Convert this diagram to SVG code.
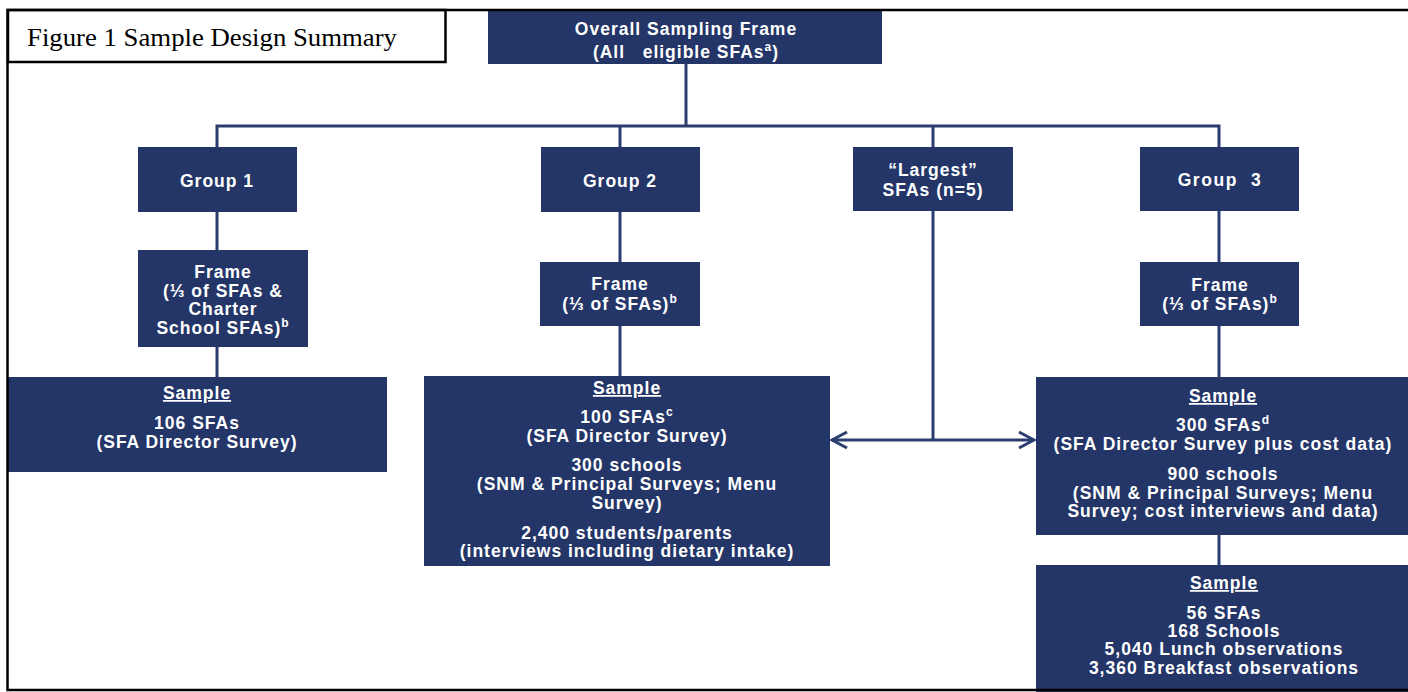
<svg xmlns="http://www.w3.org/2000/svg" width="1408" height="692" viewBox="0 0 1408 692">
<style>
.box{fill:#243668;}
.t{font-family:"Liberation Sans",Arial,sans-serif;font-weight:bold;font-size:17.5px;letter-spacing:1px;fill:#ffffff;text-anchor:middle;}
.u{text-decoration:underline;}
.sup{font-size:12px;}
.con{fill:none;stroke:#2b3d6e;stroke-width:3;}
.frame{fill:none;stroke:#000000;stroke-width:2.5;}
</style>
<defs>
<marker id="chev" markerUnits="userSpaceOnUse" markerWidth="20" markerHeight="20" viewBox="0 0 20 20" refX="17" refY="10" orient="auto-start-reverse">
<path d="M2,2 L17,10 L2,18" fill="none" stroke="#2b3d6e" stroke-width="3"/>
</marker>
</defs>
<rect x="0" y="0" width="1408" height="692" fill="#ffffff"/>

<g id="connectors">
<path class="con" d="M686 64 V126"/>
<path class="con" d="M217 147 V126 H1219 V147"/>
<path class="con" d="M620 126 V147"/>
<path class="con" d="M933 126 V147"/>
<path class="con" d="M217 212 V250"/>
<path class="con" d="M217 347 V377"/>
<path class="con" d="M620 212 V262"/>
<path class="con" d="M620 326 V376"/>
<path class="con" d="M1219 211 V262"/>
<path class="con" d="M1219 326 V377"/>
<path class="con" d="M1219 535 V565"/>
<path class="con" d="M933 211 V440"/>
<path class="con" d="M832 440 H1034" marker-start="url(#chev)" marker-end="url(#chev)"/>
</g>

<g id="title">
<rect x="8" y="10" width="437.500" height="52" fill="#ffffff" stroke="#000" stroke-width="2.5"/>
<text x="27" y="46" font-family="'Liberation Serif','Times New Roman',serif" font-size="26" textLength="370" lengthAdjust="spacingAndGlyphs" fill="#000">Figure 1 Sample Design Summary</text>
</g>

<g id="overall">
<rect class="box" x="488" y="11" width="394" height="53"/>
<text class="t" x="686" y="35">Overall Sampling Frame</text>
<text class="t" x="686" y="58">(All&#160;&#160; eligible SFAs<tspan class="sup" dy="-7">a</tspan><tspan dy="7">)</tspan></text>
</g>

<g id="group1">
<rect class="box" x="138" y="147" width="159" height="65"/>
<text class="t" x="217" y="187">Group 1</text>
</g>

<g id="group2">
<rect class="box" x="541" y="147" width="159" height="65"/>
<text class="t" x="620" y="187">Group 2</text>
</g>

<g id="largest">
<rect class="box" x="853" y="147" width="160" height="64"/>
<text class="t" x="933" y="176">“Largest”</text>
<text class="t" x="933" y="196">SFAs (n=5)</text>
</g>

<g id="group3">
<rect class="box" x="1140" y="147" width="159" height="64"/>
<text class="t" x="1220" y="186" style="letter-spacing:1.6px">Group&#160; 3</text>
</g>

<g id="frame1">
<rect class="box" x="138" y="250" width="170" height="97"/>
<text class="t" x="223" y="278">Frame</text>
<text class="t" x="223" y="297">(⅓ of SFAs &amp;</text>
<text class="t" x="223" y="315">Charter</text>
<text class="t" x="223" y="334">School SFAs)<tspan class="sup" dy="-7">b</tspan></text>
</g>

<g id="frame2">
<rect class="box" x="540" y="262" width="160" height="64"/>
<text class="t" x="620" y="290">Frame</text>
<text class="t" x="620" y="310">(⅓ of SFAs)<tspan class="sup" dy="-7">b</tspan></text>
</g>

<g id="frame3">
<rect class="box" x="1140" y="262" width="159" height="64"/>
<text class="t" x="1220" y="291">Frame</text>
<text class="t" x="1220" y="310">(⅓ of SFAs)<tspan class="sup" dy="-7">b</tspan></text>
</g>

<g id="sample1">
<rect class="box" x="8" y="377" width="379" height="95"/>
<text class="t u" x="197" y="399">Sample</text>
<text class="t" x="197" y="429">106 SFAs</text>
<text class="t" x="197" y="448">(SFA Director Survey)</text>
</g>

<g id="sample2">
<rect class="box" x="424" y="376" width="406" height="190"/>
<text class="t u" x="627" y="394">Sample</text>
<text class="t" x="627" y="423">100 SFAs<tspan class="sup" dy="-7">c</tspan></text>
<text class="t" x="627" y="442">(SFA Director Survey)</text>
<text class="t" x="627" y="471">300 schools</text>
<text class="t" x="627" y="490">(SNM &amp; Principal Surveys; Menu</text>
<text class="t" x="627" y="509">Survey)</text>
<text class="t" x="627" y="539">2,400 students/parents</text>
<text class="t" x="627" y="557">(interviews including dietary intake)</text>
</g>

<g id="sample3">
<rect class="box" x="1036" y="377" width="372" height="158"/>
<text class="t u" x="1223" y="402">Sample</text>
<text class="t" x="1223" y="431">300 SFAs<tspan class="sup" dy="-7">d</tspan></text>
<text class="t" x="1223" y="450">(SFA Director Survey plus cost data)</text>
<text class="t" x="1223" y="480">900 schools</text>
<text class="t" x="1223" y="499">(SNM &amp; Principal Surveys; Menu</text>
<text class="t" x="1223" y="517">Survey; cost interviews and data)</text>
</g>

<g id="sample4">
<rect class="box" x="1036" y="565" width="372" height="127"/>
<text class="t u" x="1224" y="589">Sample</text>
<text class="t" x="1224" y="619">56 SFAs</text>
<text class="t" x="1224" y="637">168 Schools</text>
<text class="t" x="1224" y="655">5,040 Lunch observations</text>
<text class="t" x="1224" y="674">3,360 Breakfast observations</text>
</g>

<g id="border">
<path class="frame" d="M1408 10 H7.500 V690 H1408"/>
</g>
</svg>
